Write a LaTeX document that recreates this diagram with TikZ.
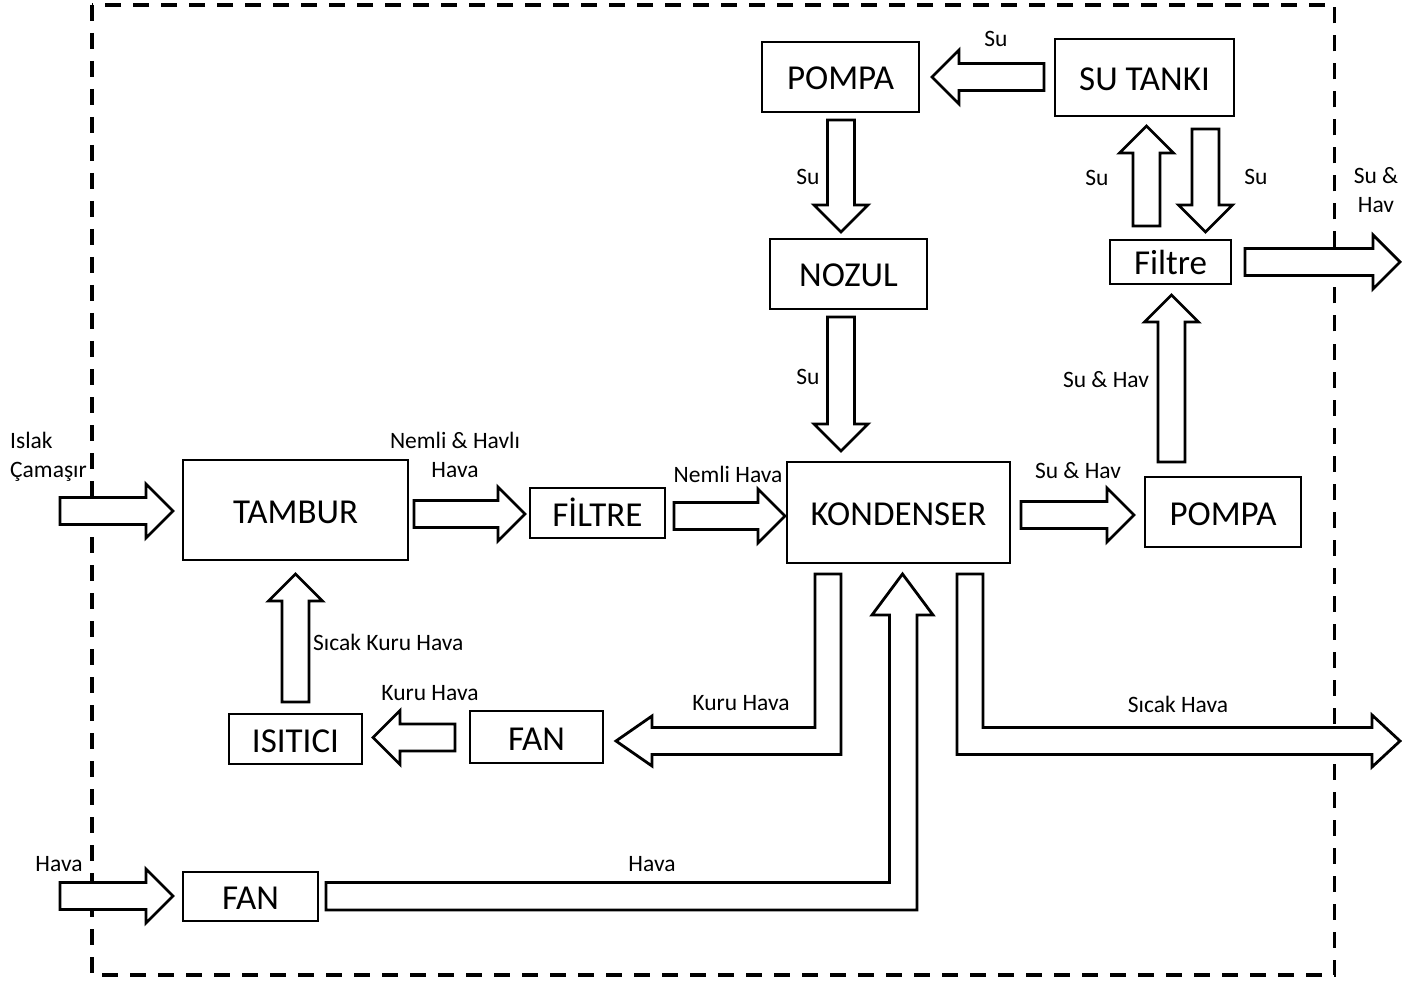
\documentclass[tikz,border=0pt]{standalone}
\usepackage{fontspec}
\setmainfont{Carlito}
\newcommand\myArR[3]{\draw[blk] (#1,#3-13.5) -- (#2-27,#3-13.5) -- (#2-27,#3-27) -- (#2,#3) -- (#2-27,#3+27) -- (#2-27,#3+13.5) -- (#1,#3+13.5) -- cycle;}
\newcommand\myArL[3]{\draw[blk] (#1,#3-13.5) -- (#2+27,#3-13.5) -- (#2+27,#3-27) -- (#2,#3) -- (#2+27,#3+27) -- (#2+27,#3+13.5) -- (#1,#3+13.5) -- cycle;}
\newcommand\myArD[3]{\draw[blk] (#3-13.5,#1) -- (#3-13.5,#2-27) -- (#3-27,#2-27) -- (#3,#2) -- (#3+27,#2-27) -- (#3+13.5,#2-27) -- (#3+13.5,#1) -- cycle;}
\newcommand\myArU[3]{\draw[blk] (#3-13.5,#1) -- (#3-13.5,#2+27) -- (#3-27,#2+27) -- (#3,#2) -- (#3+27,#2+27) -- (#3+13.5,#2+27) -- (#3+13.5,#1) -- cycle;}
\begin{document}
\begin{tikzpicture}[x=1pt,y=-1pt,
  box/.style={draw, line width=2.8pt, inner sep=0pt, text height=26pt, text depth=0pt, font=\fontsize{35}{38}\selectfont},
  blk/.style={draw, line width=2.8pt, fill=white, line join=miter},
  lbl/.style={inner sep=0pt, font=\fontsize{23.5}{29}\selectfont, align=center}]
\useasboundingbox (0,0) rectangle (1402,981);
\draw[line width=3.6pt, dash pattern=on 16pt off 12pt] (92,5) rectangle (1334.5,975);

% boxes
\node[box, minimum width=157pt, minimum height=70pt] (pompaT) at (840.5,77) {POMPA};
\node[box, minimum width=179pt, minimum height=77pt] (sutank) at (1144.5,77.5) {SU TANKI};
\node[box, minimum width=157pt, minimum height=70pt] (nozul) at (848.5,274) {NOZUL};
\node[box, minimum width=121pt, minimum height=44pt] (filtreR) at (1170.5,262) {Filtre};
\node[box, minimum width=225pt, minimum height=100pt] (tambur) at (295.5,510) {TAMBUR};
\node[box, minimum width=135pt, minimum height=50pt] (filtreM) at (597.5,513) {FİLTRE};
\node[box, minimum width=223pt, minimum height=101pt] (kond) at (898.5,512.5) {KONDENSER};
\node[box, minimum width=156pt, minimum height=70pt] (pompaR) at (1223,512) {POMPA};
\node[box, minimum width=133pt, minimum height=50pt] (isitici) at (295.5,739) {ISITICI};
\node[box, minimum width=133pt, minimum height=52pt] (fanM) at (536.5,737) {FAN};
\node[box, minimum width=135pt, minimum height=49pt] (fanB) at (250.5,896.5) {FAN};

% straight block arrows
\myArR{60}{173}{511}
\myArR{414}{525}{514}
\myArR{674}{785}{516}
\myArR{1021}{1134}{515}
\myArL{1044}{932}{77}
\myArD{120}{232}{841}
\myArD{317}{451}{841}
\myArU{226}{126}{1146.5}
\myArD{129}{232}{1205.5}
\myArU{462}{295}{1171.5}
\myArR{1245}{1400}{262}
\myArU{702}{574}{295.5}
\myArL{455}{373}{737.5}
\myArR{60}{173}{896}

% bent block arrows
\draw[blk] (815,574) -- (841,574) -- (841,754.5) -- (652,754.5) -- (652,766) -- (616,741) -- (652,716) -- (652,727.5) -- (815,727.5) -- cycle;
\draw[blk] (957,574) -- (983,574) -- (983,727.5) -- (1372,727.5) -- (1372,715) -- (1400,741) -- (1372,767) -- (1372,754.5) -- (957,754.5) -- cycle;
\draw[blk] (326,882.5) -- (889.5,882.5) -- (889.5,615) -- (872,615) -- (902.5,574) -- (933,615) -- (917,615) -- (917,910) -- (326,910) -- cycle;

% labels
\node[lbl] (l1) at (996,39) {Su};
\node[lbl] (l2) at (808,177) {Su};
\node[lbl] (l3) at (808,377) {Su};
\node[lbl] (l4) at (1097,178) {Su};
\node[lbl] (l5) at (1256,177) {Su};
\node[lbl] (l6) at (1376,190) {Su \&\\Hav};
\node[lbl] (l7) at (1106,380) {Su \& Hav};
\node[lbl] (l8) at (1078,471) {Su \& Hav};
\node[lbl] (l9) at (728,474) {Nemli Hava};
\node[lbl] (l10) at (455,455) {Nemli \& Havlı\\Hava};
\node[lbl, align=left, anchor=west] (l11) at (10,457) {Islak\\Çamaşır};
\node[lbl, anchor=west] (l12) at (313,642) {Sıcak Kuru Hava};
\node[lbl] (l13) at (430,693) {Kuru Hava};
\node[lbl] (l14) at (741,703) {Kuru Hava};
\node[lbl] (l15) at (1178,704) {Sıcak Hava};
\node[lbl] (l16) at (652,864) {Hava};
\node[lbl] (l17) at (59,864) {Hava};
\end{tikzpicture}
\end{document}
